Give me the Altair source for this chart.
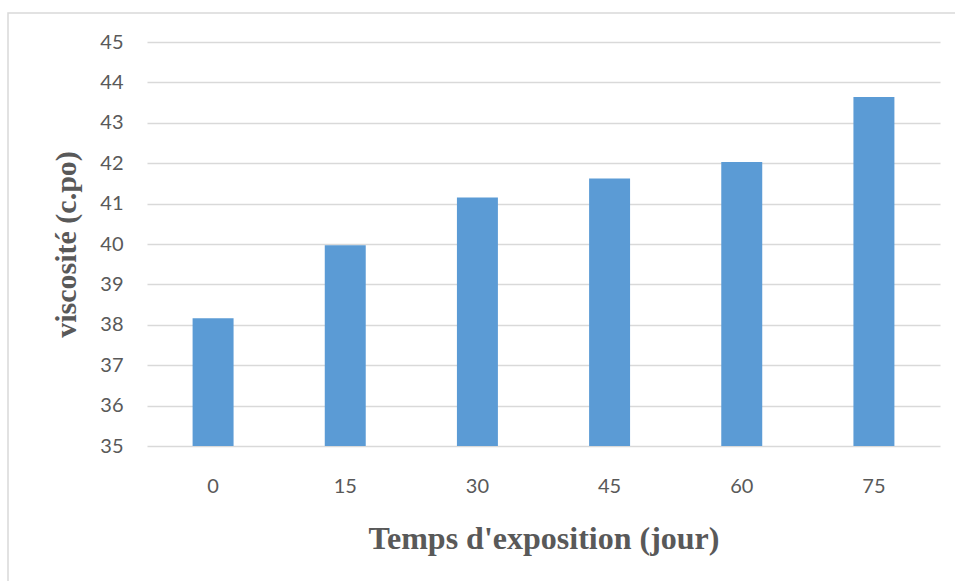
import altair as alt
import pandas as pd

days = ["0", "15", "30", "45", "60", "75"]
viscosity = [38.16, 39.97, 41.15, 41.62, 42.03, 43.64]

df = pd.DataFrame({"jour": days, "visc": viscosity, "base": [35] * len(days)})

frame = alt.Chart(pd.DataFrame({"a": [0]})).mark_rect(
    fill=None, stroke="#d9d9d9", strokeWidth=1.5
).encode(
    x=alt.value(-139), x2=alt.value(830), y=alt.value(-29), y2=alt.value(560)
)

bars = alt.Chart(df).mark_bar(color="#5b9bd5").encode(
    x=alt.X("jour:N", sort=days,
            scale=alt.Scale(paddingInner=0.69, paddingOuter=0.345),
            axis=alt.Axis(title="Temps d'exposition (jour)", labelAngle=0,
                          domain=False, ticks=False, labelPadding=30,
                          labelFont="Lato", labelFontSize=20, labelColor="#595959",
                          titleFont="Liberation Serif", titleFontSize=32,
                          titleFontWeight="bold", titleColor="#595959",
                          titlePadding=27)),
    y=alt.Y("visc:Q",
            scale=alt.Scale(domain=[35, 45], zero=False, nice=False, clamp=True),
            axis=alt.Axis(title="viscosité (c.po)", values=list(range(35, 46)),
                          domain=False, ticks=False, labelPadding=24,
                          labelFont="Lato", labelFontSize=20, labelColor="#595959",
                          titleFont="Liberation Serif", titleFontSize=30,
                          titleFontWeight="bold", titleColor="#595959",
                          titlePadding=18,
                          gridColor="#d9d9d9", gridWidth=1.5)),
    y2="base:Q",
)

chart = alt.layer(frame, bars).properties(
    width=793, height=404,
    autosize=alt.AutoSizeParams(type="none"),
    padding={"left": 147, "top": 42, "right": 15, "bottom": 135},
    background="white",
).configure_view(stroke=None)

chart.save("out.html", embed_options={"renderer": "svg", "actions": False})
